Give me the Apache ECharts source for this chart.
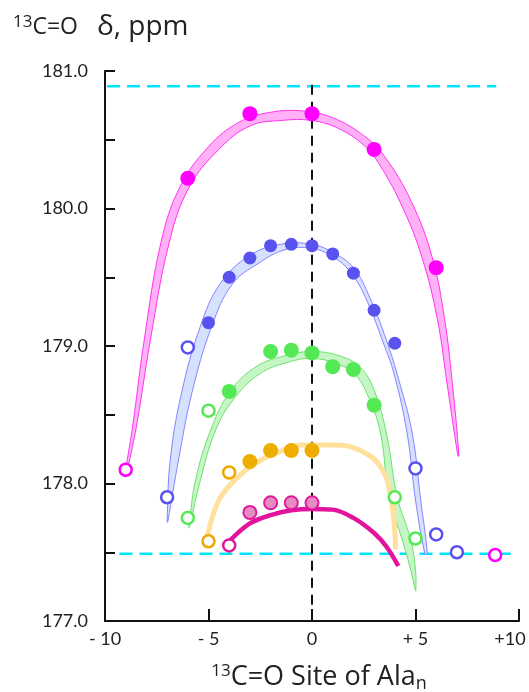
<!DOCTYPE html>
<html>
<head>
<meta charset="utf-8">
<script src="https://cdn.jsdelivr.net/npm/echarts@6/dist/echarts.min.js"></script>
<style>
  html, body { margin: 0; padding: 0; background: #fff; }
  #chart { width: 529px; height: 692px; }
</style>
</head>
<body>
<div id="chart"></div>
<script>
// x ticks and their printed labels
var xTicks = [-10, -5, 0, 5, 10];
var xTickLabels = ['- 10', '- 5', '0', '+ 5', '+10'];

// measured points [site, ppm]
var magentaFilled = [[-6, 180.22], [-3, 180.69], [0, 180.69], [3, 180.43], [6, 179.57]];
var magentaOpen = [[-9, 178.10], [8.85, 177.48]];
var blueFilled = [[-5, 179.17], [-4, 179.50], [-3, 179.64], [-2, 179.73], [-1, 179.74], [0, 179.73], [1, 179.67], [2, 179.53], [3, 179.26], [4, 179.02]];
var blueOpen = [[-7, 177.90], [-6, 178.99], [5, 178.11], [6, 177.63], [7, 177.50]];
var greenFilled = [[-4, 178.67], [-2, 178.96], [-1, 178.97], [0, 178.95], [1, 178.85], [2, 178.83], [3, 178.57]];
var greenOpen = [[-6, 177.75], [-5, 178.53], [4, 177.90], [5, 177.60]];
var orangeFilled = [[-3, 178.16], [-2, 178.24], [-1, 178.24], [0, 178.24]];
var orangeOpen = [[-5, 177.58], [-4, 178.08]];
var pinkFilled = [[-3, 177.79], [-2, 177.86], [-1, 177.86], [0, 177.86]];
var pinkOpen = [[-4, 177.55]];

// band edges (outer / inner)
var magentaOuter = [[-9.05, 178.05], [-8.68, 178.4], [-8.1, 179.05], [-7.3, 179.75], [-6.4, 180.15], [-5.0, 180.45], [-3.5, 180.63], [-2, 180.7], [-0.5, 180.71], [1, 180.66], [2.5, 180.53], [3.5, 180.38], [4.8, 180.05], [5.8, 179.65], [6.4, 179.2], [6.8, 178.7], [7.1, 178.2]];
var magentaInner = [[-9.0, 178.05], [-8.5, 178.4], [-7.8, 179.05], [-6.9, 179.75], [-5.95, 180.15], [-4.5, 180.43], [-3.0, 180.6], [-1.5, 180.64], [0, 180.64], [1.3, 180.58], [2.5, 180.46], [3.3, 180.31], [4.4, 180.0], [5.3, 179.65], [6.05, 179.2], [6.55, 178.7], [7.05, 178.2]];
var blueOuter = [[-7.0, 177.72], [-6.85, 178.17], [-6.3, 178.66], [-5.4, 179.14], [-4.45, 179.45], [-3.0, 179.66], [-1.5, 179.74], [0, 179.74], [1.0, 179.68], [2.0, 179.57], [2.8, 179.35], [3.6, 179.04], [4.2, 178.75], [4.85, 178.36], [5.25, 177.88], [5.57, 177.49]];
var blueInner = [[-6.97, 177.72], [-6.45, 178.17], [-5.8, 178.66], [-4.85, 179.14], [-3.85, 179.45], [-2.6, 179.6], [-1.3, 179.7], [0, 179.71], [1.0, 179.65], [1.9, 179.53], [2.65, 179.33], [3.45, 179.02], [3.96, 178.8], [4.6, 178.36], [5.0, 177.88], [5.45, 177.49]];
var greenOuter = [[-5.95, 177.68], [-5.62, 178.03], [-4.89, 178.39], [-3.95, 178.67], [-2.7, 178.85], [-1.3, 178.93], [0, 178.96], [1.3, 178.93], [2.3, 178.85], [3.0, 178.68], [3.6, 178.36], [4.12, 177.9], [4.77, 177.59], [5.0, 177.37], [5.02, 177.22]];
var greenInner = [[-5.93, 177.68], [-5.38, 178.03], [-4.65, 178.39], [-3.7, 178.63], [-2.5, 178.8], [-1.2, 178.88], [0, 178.91], [1.2, 178.87], [2.1, 178.79], [2.75, 178.62], [3.32, 178.36], [3.72, 177.9], [4.36, 177.59], [4.77, 177.37], [5.0, 177.22]];

// fitted curves drawn as plain thick lines
var orangeCurve = [[-5.06, 177.62], [-4.5, 177.88], [-3.7, 178.03], [-2.7, 178.15], [-1.6, 178.23], [-0.5, 178.28], [1, 178.28], [1.8, 178.27], [2.9, 178.19], [3.4, 178.1], [3.72, 177.98], [3.96, 177.73], [4.04, 177.52]];
var pinkCurve = [[-4.0, 177.58], [-3.0, 177.71], [-2.0, 177.77], [-1.0, 177.805], [0, 177.815], [1.0, 177.81], [2.0, 177.75], [3.0, 177.64], [3.6, 177.54], [4.17, 177.4]];

// reference lines
var cyanTop = [[-9.9, 180.89], [8.9, 180.89]];
var cyanBottom = [[-9.3, 177.49], [9.6, 177.49]];
var centerLine = [[0, 180.9], [0, 177.0]];

var FONT = 'Open Sans';

function band(outer, inner, fill, stroke) {
    var pts = outer.concat(inner.slice().reverse());
    return {
        type: 'custom',
        z: 1,
        silent: true,
        data: pts,
        encode: { x: 0, y: 1 },
        renderItem: function (params, api) {
            if (params.dataIndex !== 0) return;
            return {
                type: 'polygon',
                shape: { points: pts.map(function (p) { return api.coord(p); }), smooth: 0.4 },
                style: { fill: fill, stroke: stroke, lineWidth: 0.9 }
            };
        }
    };
}

function dots(data, color, size, border) {
    return {
        type: 'scatter', z: 5, data: data, symbolSize: size,
        itemStyle: border ? { color: color, borderColor: border, borderWidth: 2, opacity: 1 } : { color: color, opacity: 1 }
    };
}

function rings(data, color) {
    return {
        type: 'scatter', z: 5, data: data, symbolSize: 12,
        itemStyle: { color: '#fff', borderColor: color, borderWidth: 2.5, opacity: 1 }
    };
}

function guide(data, color, width, dash) {
    return {
        type: 'line', z: 0, data: data, symbol: 'none', silent: true,
        lineStyle: { color: color, width: width, type: dash }
    };
}

function curve(data, color, width) {
    return {
        type: 'line', z: 2, data: data, symbol: 'none', smooth: 0.35, silent: true,
        lineStyle: { color: color, width: width, cap: 'butt' }
    };
}

var option = {
    animation: false,
    backgroundColor: '#fff',
    title: {
        text: '{s|13}{t|C=O}{u|δ, ppm}',
        left: 8, top: 8,
        textStyle: {
            fontWeight: 'normal',
            rich: {
                s: { fontFamily: FONT, fontSize: 17, fontWeight: 'normal', color: '#222', padding: [0, 0, 10, 0] },
                t: { fontFamily: FONT, fontSize: 23, fontWeight: 'normal', color: '#222' },
                u: { fontFamily: FONT, fontSize: 28, fontWeight: 'normal', color: '#222', padding: [0, 0, 0, 19] }
            }
        }
    },
    grid: { left: 105, right: 10, top: 71, bottom: 71, outerBoundsMode: 'none', containLabel: false },
    xAxis: {
        type: 'value', min: -10, max: 10, interval: 5,
        axisLine: { onZero: false, lineStyle: { color: '#111', width: 2 } },
        axisTick: { inside: true, length: 12, lineStyle: { color: '#111', width: 2 } },
        splitLine: { show: false },
        axisLabel: {
            fontFamily: 'Lato', fontSize: 18, color: '#222', margin: 9,
            formatter: function (v) {
                var s = xTickLabels[xTicks.indexOf(v)];
                return v === 10 ? '{end|' + s + '}' : s;
            },
            rich: {
                end: { fontFamily: 'Lato', fontSize: 18, color: '#222', padding: [0, 18, 0, 0] }
            }
        },
        name: '{s|13}{t|C=O Site of Ala}{n|n}',
        nameLocation: 'middle', nameGap: 40,
        nameTextStyle: {
            padding: [0, 0, 0, 14],
            rich: {
                s: { fontFamily: FONT, fontSize: 17, color: '#222', padding: [0, 0, 11, 0] },
                t: { fontFamily: FONT, fontSize: 27, color: '#222' },
                n: { fontFamily: FONT, fontSize: 18, color: '#222', padding: [14, 0, 0, 0] }
            }
        }
    },
    yAxis: {
        type: 'value', min: 177, max: 181, interval: 0.5,
        axisLine: { show: true, onZero: false, lineStyle: { color: '#111', width: 2 } },
        axisTick: { show: true, inside: true, length: 10, lineStyle: { color: '#111', width: 2 } },
        splitLine: { show: false },
        axisLabel: {
            fontFamily: 'Lato', fontSize: 18, color: '#222', margin: 17,
            formatter: function (v) { return Math.abs(v - Math.round(v)) < 1e-6 ? v.toFixed(1) : ''; }
        }
    },
    series: [
        guide(cyanTop, '#00e5ff', 2.5, [13, 7]),
        guide(cyanBottom, '#00e5ff', 2.5, [13, 7]),
        guide(centerLine, '#111', 2, [10, 7]),
        band(magentaOuter, magentaInner, '#ffb0f6', '#ff22ee'),
        band(blueOuter, blueInner, '#d6e0ff', '#7b78ff'),
        band(greenOuter, greenInner, '#c6f5c6', '#5ee05e'),
        curve(orangeCurve, '#ffe09c', 5),
        curve(pinkCurve, '#e3149c', 4.5),
        dots(magentaFilled, '#ff00ff', 15),
        rings(magentaOpen, '#ff00ff'),
        dots(blueFilled, '#5a52ee', 13),
        rings(blueOpen, '#5a52ee'),
        dots(greenFilled, '#55e855', 15),
        rings(greenOpen, '#55e855'),
        dots(orangeFilled, '#eeae00', 15),
        rings(orangeOpen, '#eea800'),
        dots(pinkFilled, '#e68cc0', 13, '#e0189e'),
        rings(pinkOpen, '#e0189e')
    ]
};

echarts.init(document.getElementById('chart')).setOption(option);
</script>
</body>
</html>
